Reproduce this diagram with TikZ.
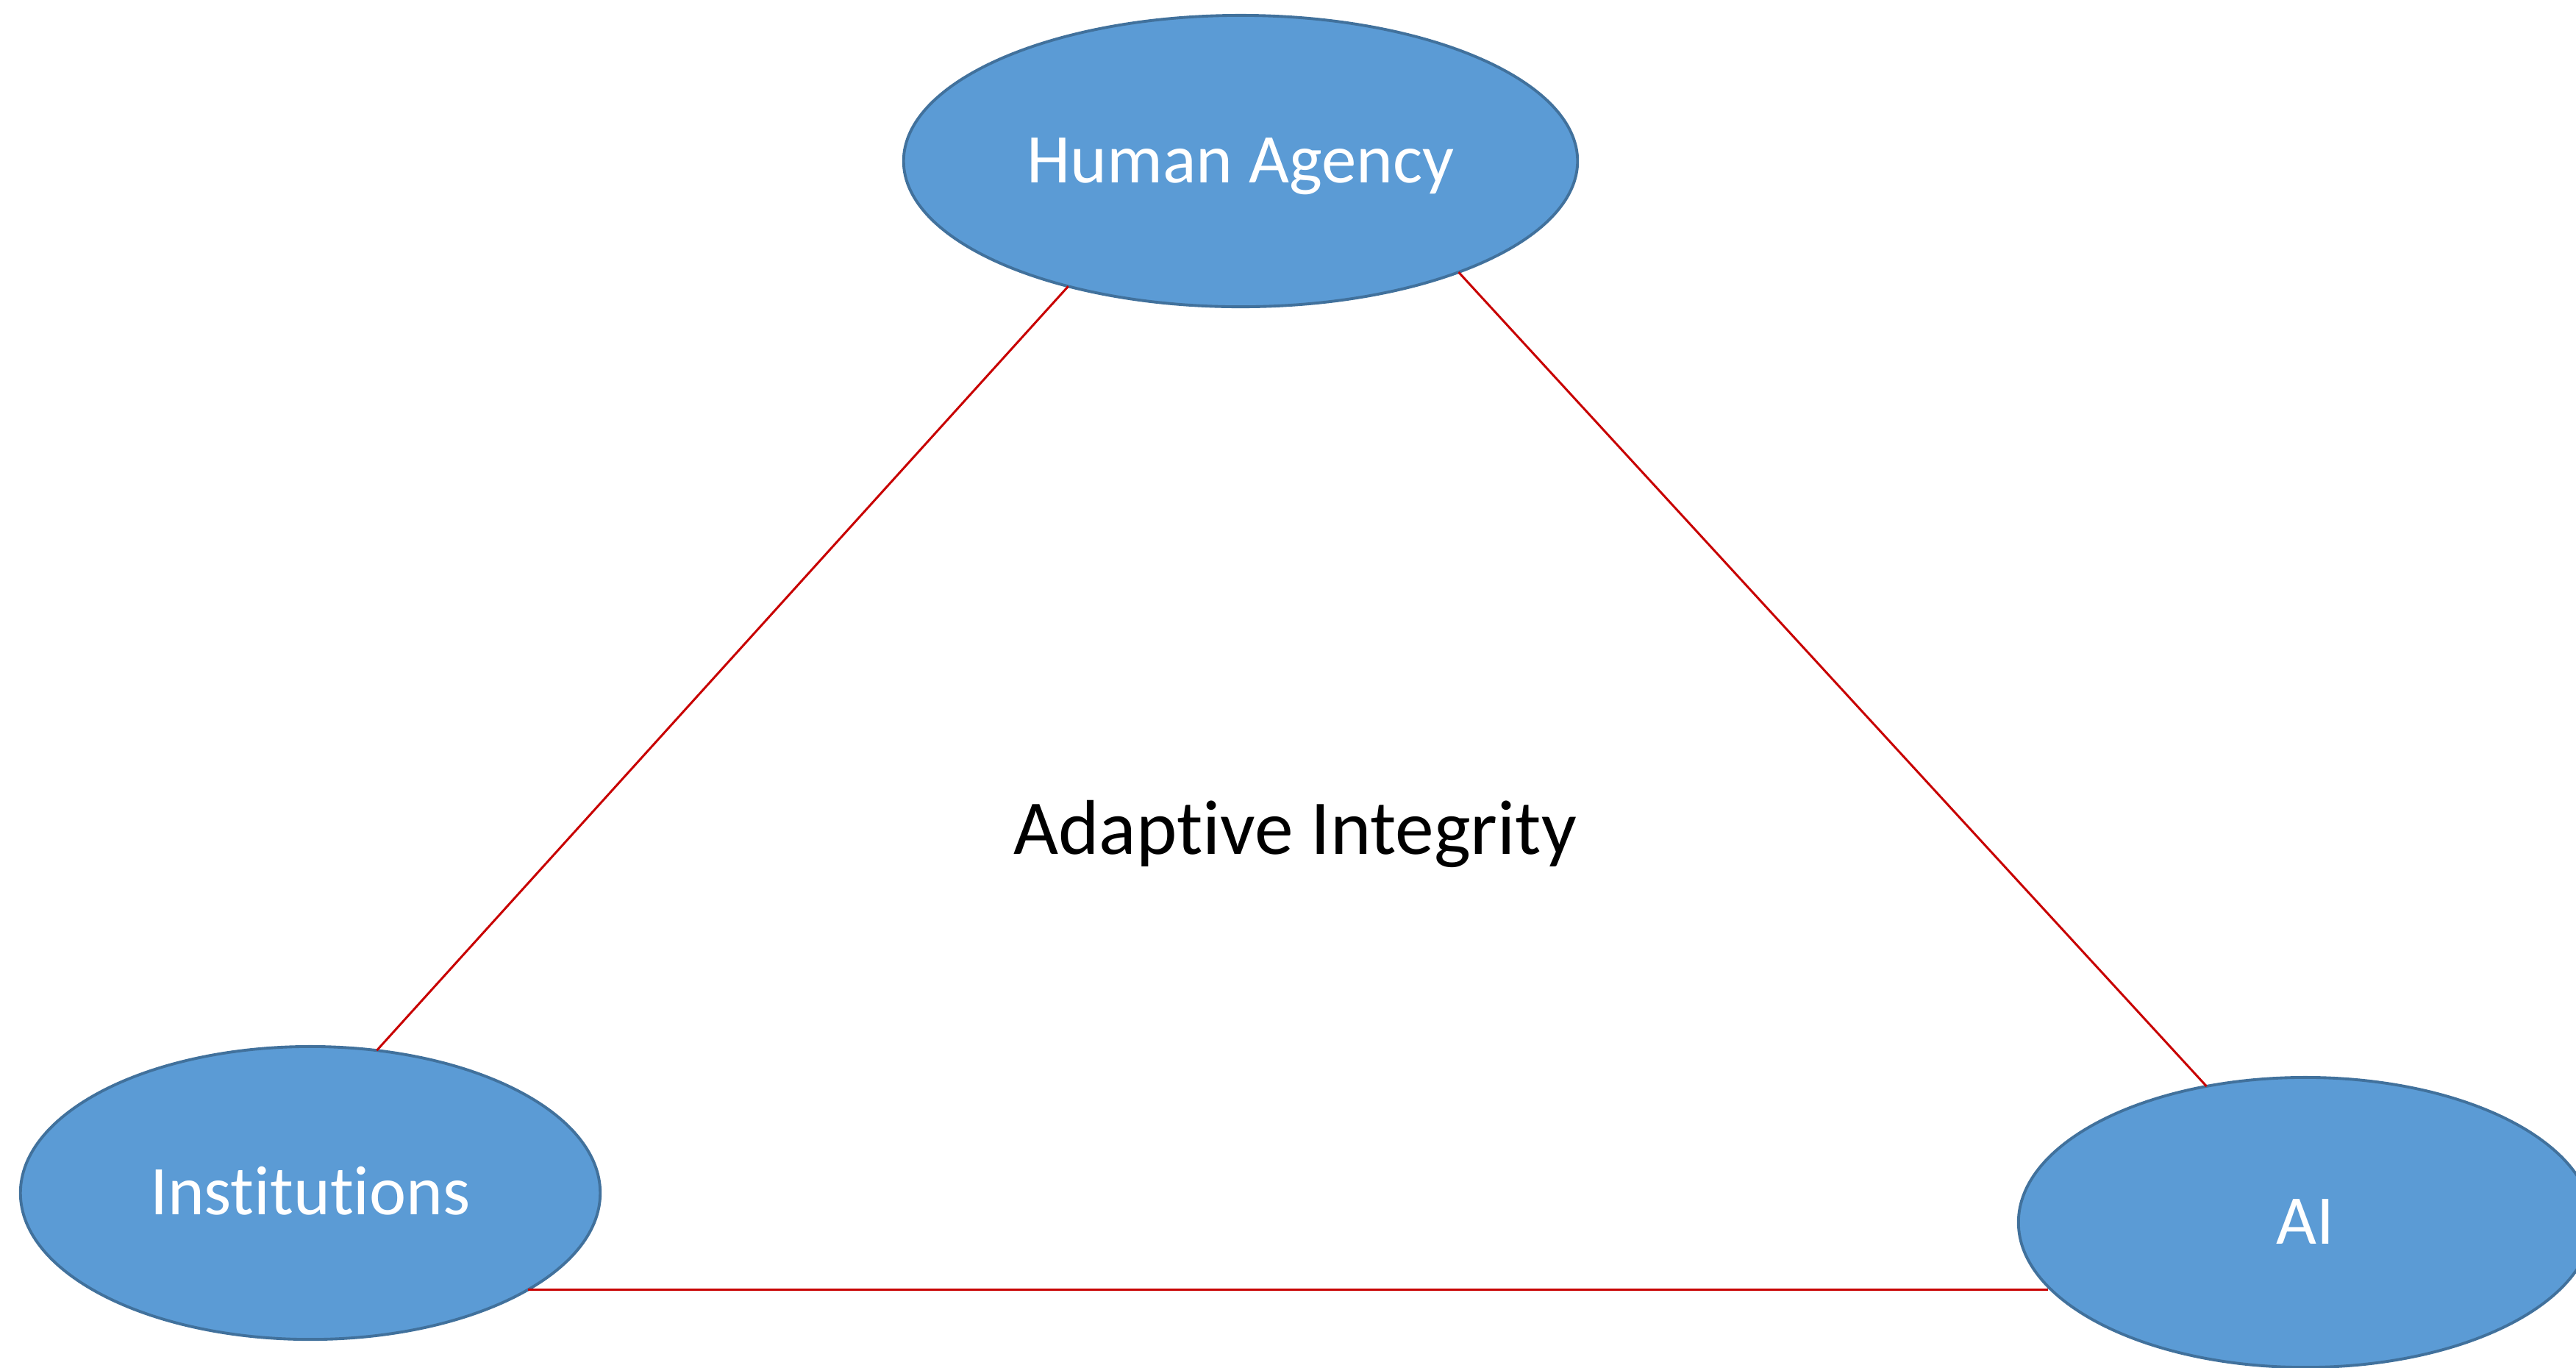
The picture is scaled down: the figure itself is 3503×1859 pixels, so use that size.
\documentclass[tikz,border=0pt]{standalone}
\usepackage{fontspec}
\setmainfont{Carlito}[Ligatures=NoCommon]
\usetikzlibrary{shapes.geometric}
\definecolor{ovalfill}{RGB}{91,155,213}
\definecolor{ovalline}{RGB}{65,113,156}
\definecolor{linkred}{RGB}{200,0,0}
\tikzset{
  oval/.style={ellipse, fill=ovalfill, draw=ovalline, line width=1.1pt,
    inner sep=0pt, outer sep=0pt, text=white, font=\fontsize{27}{32}\selectfont,
    text height=17pt, text depth=0pt},
  link/.style={draw=linkred, line width=0.85pt},
  centre/.style={font=\fontsize{30}{36}\selectfont, text=black, anchor=base, inner sep=0pt}
}
\begin{document}
\begin{tikzpicture}[x=0.01cm,y=-0.01cm]
\path[use as bounding box] (0,0) rectangle (3503,1859);
\clip (0,0) rectangle (3503,1859);
\fill[white] (0,0) rectangle (3503,1859);
\node[oval, minimum width=9.16cm, minimum height=3.96cm] (ha) at (1687,219) {Human Agency};
\node[oval, minimum width=7.88cm, minimum height=3.98cm] (inst) at (422,1622) {Institutions};
\node[oval, minimum width=7.80cm, minimum height=3.94cm] (ai) at (3135,1662) {AI};
\node[centre] (adapt) at (1761,1161) {Adaptive Integrity};
\draw[link] (ha.216.8) -- (inst.65.2);
\draw[link] (ha.333.5) -- (ai.126.5);
\draw[link] (inst.336.17) -- (inst.336.17 -| ai.194.74);
\end{tikzpicture}
\end{document}
